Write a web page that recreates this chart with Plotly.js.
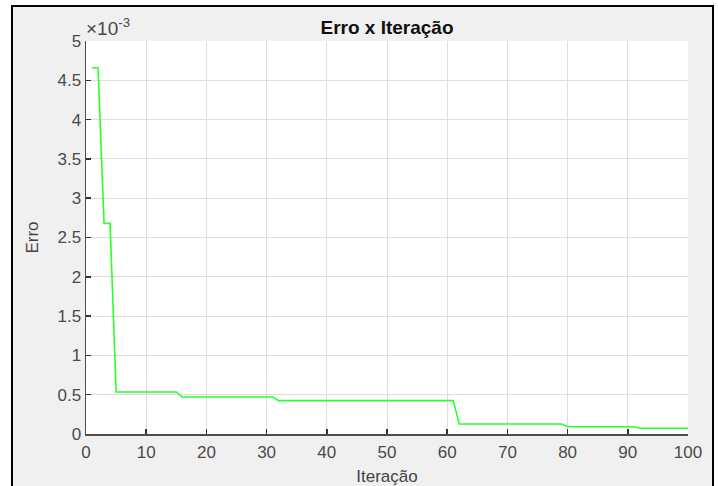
<!DOCTYPE html>
<html>
<head>
<meta charset="utf-8">
<script src="https://cdn.plot.ly/plotly-3.0.1.min.js"></script>
<style>
  html, body { margin: 0; padding: 0; background: #ffffff; width: 718px; height: 486px; overflow: hidden; }
  #frame { position: absolute; left: 11px; top: 5px; width: 699px; height: 500px; border: 2px solid #000; background: #f0f0f0; }
  #chart { position: absolute; left: 0; top: 0; width: 718px; height: 486px; }
</style>
</head>
<body>
<div id="frame"></div>
<div id="chart"></div>
<script>
// Breakpoints of the error curve (iteration, error)
const iteracao = [1, 2, 3, 4, 5, 15, 16, 31, 32, 61, 62, 79, 80, 91, 92, 100];
const erro = [4.66e-3, 4.66e-3, 2.68e-3, 2.68e-3, 0.535e-3, 0.535e-3, 0.47e-3, 0.47e-3,
              0.425e-3, 0.425e-3, 0.127e-3, 0.127e-3, 0.092e-3, 0.092e-3, 0.073e-3, 0.073e-3];
const yTickVals = [0, 0.5e-3, 1e-3, 1.5e-3, 2e-3, 2.5e-3, 3e-3, 3.5e-3, 4e-3, 4.5e-3, 5e-3];
const yTickText = ['0', '0.5', '1', '1.5', '2', '2.5', '3', '3.5', '4', '4.5', '5'];
const xTickVals = [0, 10, 20, 30, 40, 50, 60, 70, 80, 90, 100];

const font = 'Liberation Sans, Arial, Helvetica, sans-serif';
const trace = {
  x: iteracao, y: erro, type: 'scatter', mode: 'lines',
  line: { color: '#2cff2c', width: 1.6 }, hoverinfo: 'none'
};
const layout = {
  width: 718, height: 486,
  margin: { l: 86, r: 30, t: 41, b: 52 },
  paper_bgcolor: 'rgba(0,0,0,0)', plot_bgcolor: '#ffffff',
  showlegend: false,
  title: { text: '<b>Erro x Iteração</b>', font: { family: font, size: 19, color: '#111' },
           x: 0.539, xanchor: 'center', y: 0.944, yanchor: 'middle' },
  xaxis: {
    range: [0, 100], tickvals: xTickVals, ticktext: xTickVals.map(String),
    showgrid: true, gridcolor: '#dedede', gridwidth: 1,
    showline: true, linecolor: '#4d4d4d', linewidth: 1.5, zeroline: false,
    ticks: 'inside', ticklen: 5, tickcolor: '#333', tickwidth: 1.5,
    ticklabelstandoff: 2,
    tickfont: { family: font, size: 17, color: '#4a4a4a' },
    title: { text: 'Iteração', font: { family: font, size: 17, color: '#444' }, standoff: 9 }
  },
  yaxis: {
    range: [0, 5e-3], tickvals: yTickVals, ticktext: yTickText,
    showgrid: true, gridcolor: '#dedede', gridwidth: 1,
    showline: true, linecolor: '#4d4d4d', linewidth: 1.5, zeroline: false,
    ticks: 'inside', ticklen: 5, tickcolor: '#333', tickwidth: 1.5,
    tickfont: { family: font, size: 17, color: '#4a4a4a' },
    title: { text: 'Erro', font: { family: font, size: 17, color: '#444' }, standoff: 14 }
  },
  annotations: [{
    xref: 'paper', yref: 'paper', x: 0, y: 1, xanchor: 'left', yanchor: 'bottom',
    xshift: -2, yshift: 0,
    text: '×10<sup>-3</sup>', showarrow: false,
    font: { family: font, size: 19, color: '#4a4a4a' }
  }]
};
Plotly.newPlot('chart', [trace], layout, { staticPlot: true, displayModeBar: false });
</script>
</body>
</html>
